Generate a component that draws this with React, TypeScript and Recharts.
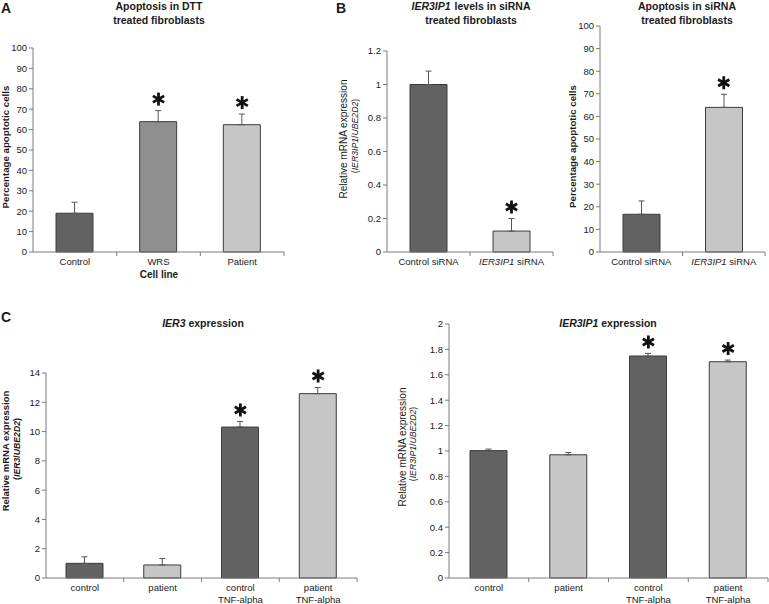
import React from 'react';
import { BarChart, Bar, XAxis, YAxis, Cell, ErrorBar, ReferenceDot } from 'recharts';

// --- A: apoptosis in DTT treated fibroblasts
const dttCellLines = ['Control', 'WRS', 'Patient'];
const dttApoptosisPct = [19, 63.9, 62.4];
const dttApoptosisSd = [5.4, 5.4, 5.2];
const dttSignificant = [false, true, true];

// --- B left: IER3IP1 levels after siRNA
const siRnaGroups = ['Control siRNA', 'IER3IP1 siRNA'];
const knockdownLevel = [1.0, 0.125];
const knockdownSd = [0.08, 0.075];
const knockdownSignificant = [false, true];

// --- B right: apoptosis after siRNA
const siRnaApoptosisPct = [16.7, 64.0];
const siRnaApoptosisSd = [5.9, 5.8];
const siRnaSignificant = [false, true];

// --- C: TNF-alpha stimulation
const tnfConditions = ['control', 'patient', 'control\nTNF-alpha', 'patient\nTNF-alpha'];
const ier3Expr = [1.0, 0.89, 10.31, 12.59];
const ier3Sd = [0.45, 0.44, 0.38, 0.42];
const ier3Significant = [false, false, true, true];
const ier3ip1Expr = [1.003, 0.97, 1.748, 1.703];
const ier3ip1Sd = [0.012, 0.018, 0.02, 0.013];
const ier3ip1Significant = [false, false, true, true];

// tick values
const pctTicks = [0, 10, 20, 30, 40, 50, 60, 70, 80, 90, 100];
const knockdownTicks = [0, 0.2, 0.4, 0.6, 0.8, 1, 1.2];
const ier3Ticks = [0, 2, 4, 6, 8, 10, 12, 14];
const ier3ip1Ticks = [0, 0.2, 0.4, 0.6, 0.8, 1, 1.2, 1.4, 1.6, 1.8, 2];

const DARK = '#626262';
const MID = '#8f8f8f';
const LIGHT = '#c6c6c6';
const AXIS = '#7a7a7a';
const TEXT = '#1a1a1a';
const FONT = '"Liberation Sans", Arial, sans-serif';
const STAR_GAP = 11.5;

const buildRows = (cats: string[], vals: number[], sds: number[], sig: boolean[]) =>
  cats.map((c, i) => ({ cat: c, value: vals[i], err: [0, sds[i]], top: vals[i] + sds[i], sig: sig[i] }));

const GENES = /(IER3IP1|IER3|UBE2D2)/;
const rich = (s: string) =>
  s.split(GENES).filter((p) => p !== '').map((p, i) =>
    GENES.test(p) ? <tspan key={i} fontStyle="italic">{p}</tspan> : <tspan key={i}>{p}</tspan>
  );

const CatTick = (props: any) => {
  const { x, y, payload } = props;
  const off = payload.offset ?? 0;
  const lines = String(payload.value).split('\n');
  return (
    <g>
      <line x1={x + off} x2={x + off} y1={y} y2={y + 4} stroke={AXIS} />
      <text x={x} y={y + 12.5} textAnchor="middle" fontSize={9.5} fill={TEXT} fontFamily={FONT}>
        {lines.map((l, i) => (
          <tspan key={i} x={x} dy={i === 0 ? 0 : 12}>{rich(l)}</tspan>
        ))}
      </text>
    </g>
  );
};

const Asterisk = (p: any) => {
  const cx = p.cx;
  const cy = p.cy - STAR_GAP;
  const r = 6.5;
  return (
    <g>
      {[90, 30, -30].map((a) => {
        const t = (a * Math.PI) / 180;
        const dx = r * Math.cos(t);
        const dy = r * Math.sin(t);
        return <line key={a} x1={cx - dx} y1={cy - dy} x2={cx + dx} y2={cy + dy} stroke="#111" strokeWidth={2.8} />;
      })}
    </g>
  );
};

interface PanelProps {
  left: number;
  top: number;
  width: number;
  height: number;
  plotTop: number;
  plotRight: number;
  yWidth: number;
  xHeight: number;
  rows: ReturnType<typeof buildRows>;
  fills: string[];
  ticks: number[];
}

const Panel = ({ left, top, width, height, plotTop, plotRight, yWidth, xHeight, rows, fills, ticks }: PanelProps) => (
  <div style={{ position: 'absolute', left, top, width, height }}>
    <BarChart width={width} height={height} data={rows} margin={{ top: plotTop, right: plotRight, bottom: 0, left: 0 }}>
      <XAxis
        dataKey="cat"
        height={xHeight}
        stroke={AXIS}
        tickLine={false}
        tickSize={0}
        tickMargin={0}
        interval={0}
        tick={<CatTick />}
      />
      <YAxis
        width={yWidth}
        domain={[ticks[0], ticks[ticks.length - 1]]}
        ticks={ticks}
        interval={0}
        stroke={AXIS}
        tickSize={4}
        tickMargin={2}
        tick={{ fontSize: 9.5, fill: TEXT, fontFamily: FONT }}
      />
      <Bar dataKey="value" barSize={37} stroke="#3c3c3c" strokeWidth={1} isAnimationActive={false}>
        {rows.map((r, i) => (
          <Cell key={r.cat} fill={fills[i]} />
        ))}
        <ErrorBar dataKey="err" direction="y" width={3} stroke="#555" strokeWidth={1} isAnimationActive={false} />
      </Bar>
      {rows.filter((r) => r.sig).map((r) => (
        <ReferenceDot key={r.cat} x={r.cat} y={r.top} shape={<Asterisk />} ifOverflow="visible" />
      ))}
    </BarChart>
  </div>
);

const Overlay = () => {
  const t = { fontFamily: FONT, fill: TEXT } as const;
  const bold = { ...t, fontWeight: 700 } as const;
  return (
    <svg width={769} height={604} style={{ position: 'absolute', left: 0, top: 0, pointerEvents: 'none' }}>
      <text x={1} y={13} fontSize={14} {...bold}>A</text>
      <text x={336} y={13} fontSize={14} {...bold}>B</text>
      <text x={1} y={322} fontSize={14} {...bold}>C</text>

      <text x={159} y={9.5} fontSize={10.5} textAnchor="middle" {...bold}>Apoptosis in DTT</text>
      <text x={159} y={23.5} fontSize={10.5} textAnchor="middle" {...bold}>treated fibroblasts</text>
      <text x={159} y={277.5} fontSize={10} textAnchor="middle" {...bold}>Cell line</text>

      <text x={471} y={9.5} fontSize={10.5} textAnchor="middle" {...bold}>
        {rich('IER3IP1')}<tspan dx={4}>levels in siRNA</tspan>
      </text>
      <text x={471} y={23.5} fontSize={10.5} textAnchor="middle" {...bold}>treated fibroblasts</text>

      <text x={687} y={9.5} fontSize={10.5} textAnchor="middle" {...bold}>Apoptosis in siRNA</text>
      <text x={687} y={23.5} fontSize={10.5} textAnchor="middle" {...bold}>treated fibroblasts</text>

      <text x={203} y={327} fontSize={10.5} textAnchor="middle" {...bold}>{rich('IER3 expression')}</text>
      <text x={608} y={327} fontSize={10.5} textAnchor="middle" {...bold}>{rich('IER3IP1 expression')}</text>

      <text transform="translate(8.5,147) rotate(-90)" fontSize={9.7} textAnchor="middle" {...bold}>Percentage apoptotic cells</text>
      <text transform="translate(576,146.5) rotate(-90)" fontSize={9.7} textAnchor="middle" {...bold}>Percentage apoptotic cells</text>

      <text transform="translate(347,139) rotate(-90)" fontSize={10} textAnchor="middle" {...t}>Relative mRNA expression</text>
      <text transform="translate(357.5,136) rotate(-90)" fontSize={8.7} textAnchor="middle" {...t}>{rich('(IER3IP1/UBE2D2)')}</text>

      <text transform="translate(8.7,451) rotate(-90)" fontSize={9.5} textAnchor="middle" {...bold}>Relative mRNA expression</text>
      <text transform="translate(20,449) rotate(-90)" fontSize={8.7} textAnchor="middle" {...bold}>{rich('(IER3/UBE2D2)')}</text>

      <text transform="translate(405.5,447) rotate(-90)" fontSize={10} textAnchor="middle" {...t}>Relative mRNA expression</text>
      <text transform="translate(416,444) rotate(-90)" fontSize={8.7} textAnchor="middle" {...t}>{rich('(IER3IP1/UBE2D2)')}</text>
    </svg>
  );
};

export default function App() {
  return (
    <div style={{ position: 'absolute', left: 0, top: 0, width: 769, height: 604, background: '#fff', fontFamily: FONT }}>
      <Panel left={0} top={0} width={300} height={290} plotTop={48} plotRight={16} yWidth={33} xHeight={38}
        rows={buildRows(dttCellLines, dttApoptosisPct, dttApoptosisSd, dttSignificant)}
        fills={[DARK, MID, LIGHT]} ticks={pctTicks} />
      <Panel left={350} top={0} width={210} height={290} plotTop={51} plotRight={7} yWidth={37} xHeight={38}
        rows={buildRows(siRnaGroups, knockdownLevel, knockdownSd, knockdownSignificant)}
        fills={[DARK, LIGHT]} ticks={knockdownTicks} />
      <Panel left={560} top={0} width={209} height={290} plotTop={26} plotRight={4} yWidth={40} xHeight={38}
        rows={buildRows(siRnaGroups, siRnaApoptosisPct, siRnaApoptosisSd, siRnaSignificant)}
        fills={[DARK, LIGHT]} ticks={pctTicks} />
      <Panel left={0} top={300} width={370} height={304} plotTop={73} plotRight={13} yWidth={46} xHeight={26}
        rows={buildRows(tnfConditions, ier3Expr, ier3Sd, ier3Significant)}
        fills={[DARK, LIGHT, DARK, LIGHT]} ticks={ier3Ticks} />
      <Panel left={390} top={300} width={379} height={304} plotTop={24} plotRight={1} yWidth={59} xHeight={26}
        rows={buildRows(tnfConditions, ier3ip1Expr, ier3ip1Sd, ier3ip1Significant)}
        fills={[DARK, LIGHT, DARK, LIGHT]} ticks={ier3ip1Ticks} />
      <Overlay />
    </div>
  );
}
